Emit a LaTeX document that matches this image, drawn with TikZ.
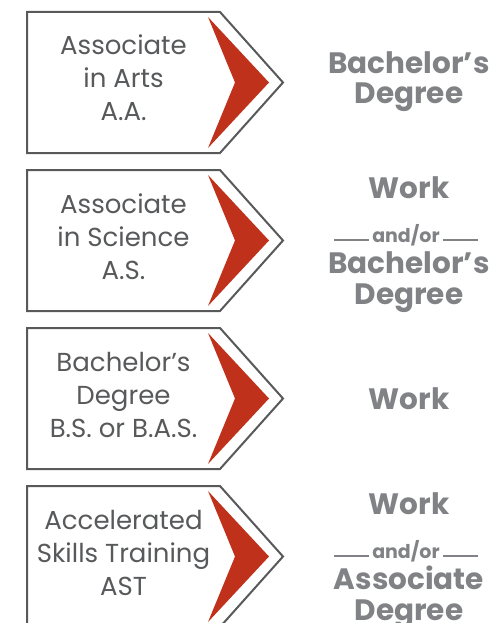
\documentclass[tikz,border=0pt]{standalone}
\usepackage{fontspec}
\setmainfont{Poppins}
\definecolor{boxgray}{HTML}{58595B}
\definecolor{goalgray}{HTML}{808285}
\definecolor{chevred}{HTML}{BF311A}

\begin{document}
\begin{tikzpicture}[x=1pt, y=-1pt,
    boxline/.style = {draw=boxgray, line width=2pt, fill=white},
    chevron/.style = {fill=chevred},
    boxtext/.style = {align=center, text=boxgray, anchor=base, inner sep=0pt,
                  font=\fontsize{26}{33}\selectfont},
    goal/.style = {text=goalgray, inner sep=0pt, anchor=base,
                  font=\bfseries\fontsize{29.5}{30}\selectfont},
    andor/.style = {text=goalgray, inner sep=0pt, anchor=base,
                  font=\bfseries\fontsize{19}{20}\selectfont},
    rule/.style = {draw=goalgray, line width=2pt}]
  \useasboundingbox (0,0) rectangle (497,623);
  \clip (0,0) rectangle (497,623);

  % the four boxes with their chevrons
  \foreach \y/\n in {0/1, 158/2, 316/3, 474/4} {
    \draw[boxline] (27,12+\y) -- (220,12+\y) -- (283,82.5+\y)
                -- (220,153+\y) -- (27,153+\y) -- cycle;
    \fill[chevron] (208,17+\y) -- (269,82.5+\y) -- (208,148+\y)
                -- (235,82.5+\y) -- cycle;
  }

  % anchored at the baseline of the last line
  \node[boxtext] (arts) at (123.5,121) {Associate\\in Arts\\A.A.};
  \node[boxtext] (science) at (123.5,279) {Associate\\in Science\\A.S.};
  \node[boxtext] (bachelor) at (123.5,437) {Bachelor’s\\Degree\\B.S. or B.A.S.};
  \node[boxtext] (skills) at (123.5,595) {Accelerated\\Skills Training\\AST};

  % where each one leads
  \node[goal] (bach1) at (409,73.5) {Bachelor’s};
  \node[goal] (deg1) at (409,103.5) {Degree};

  \node[goal] (work2) at (409,198) {Work};
  \node[andor] (andor2) at (406,242) {and/or};
  \node[goal] (bach2) at (409,273.5) {Bachelor’s};
  \node[goal] (deg2) at (409,304) {Degree};
  \draw[rule] ([xshift=-3pt,yshift=2pt]andor2.base west) -- ++(-35,0);
  \draw[rule] ([xshift=3pt,yshift=2pt]andor2.base east) -- ++(35,0);

  \node[goal] (work3) at (409,409) {Work};

  \node[goal] (work4) at (409,514) {Work};
  \node[andor] (andor4) at (406,558) {and/or};
  \node[goal] (assoc4) at (409,589.5) {Associate};
  \node[goal] (deg4) at (409,620) {Degree};
  \draw[rule] ([xshift=-3pt,yshift=2pt]andor4.base west) -- ++(-35,0);
  \draw[rule] ([xshift=3pt,yshift=2pt]andor4.base east) -- ++(35,0);
\end{tikzpicture}
\end{document}
